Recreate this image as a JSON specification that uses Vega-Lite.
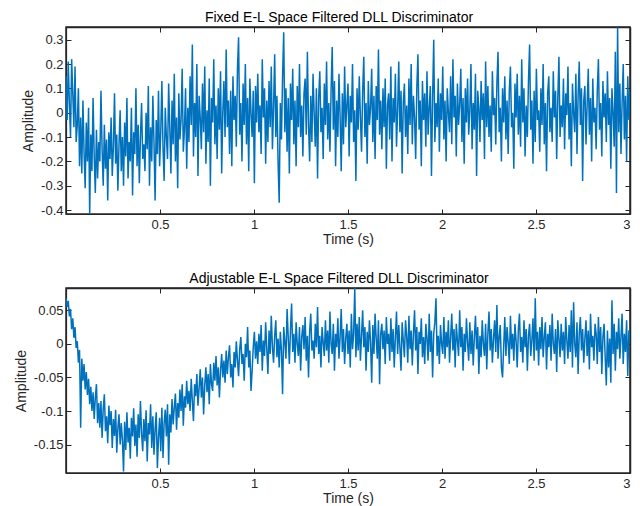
{
"$schema": "https://vega.github.io/schema/vega-lite/v6.json",
"padding": {"left": 13, "top": 9, "right": 6, "bottom": 0},
"spacing": 23,
"config": {
"view": {"stroke": "#262626", "strokeWidth": 1.5},
"axis": {"grid": false, "labelFont": "Liberation Sans", "labelFontSize": 13, "labelColor": "#262626", "titleFont": "Liberation Sans", "titleFontSize": 14, "titleFontWeight": "normal", "titleColor": "#262626", "domain": true, "domainColor": "#262626", "tickColor": "#262626", "domainWidth": 1.2, "tickWidth": 1, "tickSize": -5, "labelPadding": 8},
"title": {"font": "Liberation Sans", "fontSize": 14, "fontWeight": "normal", "color": "#000000", "offset": 2, "dx": -9}
},
"data": {"values": [
{"t":0,"a":0.15,"b":0.068},{"t":0.006,"a":-0.03,"b":0.055},{"t":0.012,"a":0.21,"b":0.064},{"t":0.018,"a":0.04,"b":0.041},{"t":0.024,"a":-0.1,"b":0.052},{"t":0.03,"a":0.22,"b":0.022},{"t":0.036,"a":0.08,"b":0.038},{"t":0.042,"a":-0.06,"b":0.009},{"t":0.048,"a":0.19,"b":0.025},{"t":0.054,"a":-0.12,"b":-0.006},
{"t":0.06,"a":-0.05,"b":0.004},{"t":0.066,"a":0.1,"b":-0.028},{"t":0.072,"a":-0.22,"b":-0.009},{"t":0.078,"a":-0.02,"b":-0.125},{"t":0.084,"a":-0.25,"b":-0.022},{"t":0.09,"a":0.05,"b":-0.055},{"t":0.096,"a":-0.16,"b":-0.03},{"t":0.102,"a":-0.31,"b":-0.068},{"t":0.108,"a":-0.04,"b":-0.042},{"t":0.114,"a":-0.2,"b":-0.076},
{"t":0.12,"a":0.02,"b":-0.052},{"t":0.126,"a":-0.42,"b":-0.09},{"t":0.132,"a":-0.09,"b":-0.064},{"t":0.138,"a":-0.24,"b":-0.1},{"t":0.144,"a":0.06,"b":-0.072},{"t":0.15,"a":-0.18,"b":-0.112},{"t":0.156,"a":-0.33,"b":-0.08},{"t":0.162,"a":-0.07,"b":-0.06},{"t":0.168,"a":-0.27,"b":-0.118},{"t":0.174,"a":-0.12,"b":-0.088},
{"t":0.18,"a":-0.2,"b":-0.125},{"t":0.186,"a":0.09,"b":-0.085},{"t":0.192,"a":-0.15,"b":-0.14},{"t":0.198,"a":-0.3,"b":-0.097},{"t":0.204,"a":-0.05,"b":-0.075},{"t":0.21,"a":-0.23,"b":-0.13},{"t":0.216,"a":-0.11,"b":-0.108},{"t":0.222,"a":-0.36,"b":-0.148},{"t":0.228,"a":-0.08,"b":-0.092},{"t":0.234,"a":-0.19,"b":-0.121},
{"t":0.24,"a":-0.02,"b":-0.1},{"t":0.246,"a":-0.26,"b":-0.155},{"t":0.252,"a":-0.14,"b":-0.112},{"t":0.258,"a":0.08,"b":-0.137},{"t":0.264,"a":-0.21,"b":-0.098},{"t":0.27,"a":-0.09,"b":-0.162},{"t":0.276,"a":-0.32,"b":-0.125},{"t":0.282,"a":-0.13,"b":-0.105},{"t":0.288,"a":0.01,"b":-0.15},{"t":0.294,"a":-0.24,"b":-0.118},
{"t":0.3,"a":-0.1,"b":-0.143},{"t":0.306,"a":-0.3,"b":-0.19},{"t":0.312,"a":-0.04,"b":-0.116},{"t":0.318,"a":-0.18,"b":-0.158},{"t":0.324,"a":0.06,"b":-0.102},{"t":0.33,"a":-0.27,"b":-0.147},{"t":0.336,"a":-0.12,"b":-0.125},{"t":0.342,"a":-0.2,"b":-0.171},{"t":0.348,"a":0.02,"b":-0.11},{"t":0.354,"a":-0.34,"b":-0.138},
{"t":0.36,"a":-0.08,"b":-0.096},{"t":0.366,"a":-0.17,"b":-0.152},{"t":0.372,"a":0.1,"b":-0.12},{"t":0.378,"a":-0.22,"b":-0.168},{"t":0.384,"a":-0.05,"b":-0.105},{"t":0.39,"a":-0.29,"b":-0.14},{"t":0.396,"a":-0.1,"b":-0.085},{"t":0.402,"a":0.04,"b":-0.133},{"t":0.408,"a":-0.19,"b":-0.16},{"t":0.414,"a":-0.13,"b":-0.112},
{"t":0.42,"a":-0.24,"b":-0.145},{"t":0.426,"a":0,"b":-0.099},{"t":0.432,"a":-0.15,"b":-0.175},{"t":0.438,"a":0.11,"b":-0.118},{"t":0.444,"a":-0.3,"b":-0.135},{"t":0.45,"a":-0.06,"b":-0.09},{"t":0.456,"a":-0.2,"b":-0.155},{"t":0.462,"a":0.07,"b":-0.108},{"t":0.468,"a":-0.12,"b":-0.165},{"t":0.474,"a":-0.36,"b":-0.127},
{"t":0.48,"a":-0.03,"b":-0.102},{"t":0.486,"a":-0.17,"b":-0.185},{"t":0.492,"a":0.09,"b":-0.14},{"t":0.498,"a":-0.22,"b":-0.11},{"t":0.504,"a":-0.08,"b":-0.16},{"t":0.51,"a":0.13,"b":-0.095},{"t":0.516,"a":-0.14,"b":-0.17},{"t":0.522,"a":-0.28,"b":-0.118},{"t":0.528,"a":0.02,"b":-0.098},{"t":0.534,"a":-0.1,"b":-0.138},
{"t":0.54,"a":-0.19,"b":-0.09},{"t":0.546,"a":0.12,"b":-0.18},{"t":0.552,"a":-0.06,"b":-0.105},{"t":0.558,"a":-0.25,"b":-0.132},{"t":0.564,"a":0.05,"b":-0.082},{"t":0.57,"a":-0.13,"b":-0.12},{"t":0.576,"a":0.16,"b":-0.095},{"t":0.582,"a":-0.2,"b":-0.074},{"t":0.588,"a":-0.02,"b":-0.128},{"t":0.594,"a":-0.31,"b":-0.088},
{"t":0.6,"a":0.08,"b":-0.11},{"t":0.606,"a":-0.11,"b":-0.068},{"t":0.612,"a":-0.03,"b":-0.1},{"t":0.618,"a":0.18,"b":-0.06},{"t":0.624,"a":-0.16,"b":-0.122},{"t":0.63,"a":-0.07,"b":-0.078},{"t":0.636,"a":0.1,"b":-0.095},{"t":0.642,"a":-0.23,"b":-0.055},{"t":0.648,"a":0.02,"b":-0.09},{"t":0.654,"a":-0.12,"b":-0.07},
{"t":0.66,"a":0.15,"b":-0.1},{"t":0.666,"a":-0.05,"b":-0.052},{"t":0.672,"a":0.28,"b":-0.085},{"t":0.678,"a":-0.18,"b":-0.115},{"t":0.684,"a":0.04,"b":-0.06},{"t":0.69,"a":-0.1,"b":-0.078},{"t":0.696,"a":0.2,"b":-0.045},{"t":0.702,"a":-0.26,"b":-0.092},{"t":0.708,"a":0.07,"b":-0.066},{"t":0.714,"a":-0.02,"b":-0.038},
{"t":0.72,"a":-0.15,"b":-0.08},{"t":0.726,"a":0.12,"b":-0.05},{"t":0.732,"a":-0.08,"b":-0.105},{"t":0.738,"a":0.19,"b":-0.062},{"t":0.744,"a":-0.21,"b":-0.035},{"t":0.75,"a":0.01,"b":-0.072},{"t":0.756,"a":-0.12,"b":-0.045},{"t":0.762,"a":0.14,"b":-0.09},{"t":0.768,"a":-0.3,"b":-0.03},{"t":0.774,"a":0.06,"b":-0.06},
{"t":0.78,"a":-0.04,"b":-0.07},{"t":0.786,"a":0.22,"b":-0.028},{"t":0.792,"a":-0.13,"b":-0.055},{"t":0.798,"a":0.03,"b":-0.018},{"t":0.804,"a":-0.19,"b":-0.062},{"t":0.81,"a":0.1,"b":-0.035},{"t":0.816,"a":-0.07,"b":-0.08},{"t":0.822,"a":0.17,"b":-0.04},{"t":0.828,"a":-0.25,"b":-0.015},{"t":0.834,"a":0,"b":-0.05},
{"t":0.84,"a":0.13,"b":-0.025},{"t":0.846,"a":-0.1,"b":-0.058},{"t":0.852,"a":0.26,"b":-0.01},{"t":0.858,"a":-0.06,"b":-0.045},{"t":0.864,"a":0.05,"b":-0.02},{"t":0.87,"a":-0.17,"b":-0.002},{"t":0.876,"a":0.09,"b":-0.05},{"t":0.882,"a":-0.22,"b":-0.03},{"t":0.888,"a":0.15,"b":-0.065},{"t":0.894,"a":-0.03,"b":-0.012},
{"t":0.9,"a":0.07,"b":-0.035},{"t":0.906,"a":-0.14,"b":0.004},{"t":0.912,"a":0.18,"b":-0.025},{"t":0.918,"a":0.31,"b":-0.048},{"t":0.924,"a":-0.09,"b":-0.008},{"t":0.93,"a":0.04,"b":0.01},{"t":0.936,"a":-0.2,"b":-0.03},{"t":0.942,"a":0.12,"b":-0.015},{"t":0.948,"a":-0.05,"b":-0.055},{"t":0.954,"a":0.2,"b":0},
{"t":0.96,"a":-0.13,"b":-0.02},{"t":0.966,"a":0.06,"b":0.025},{"t":0.972,"a":-0.24,"b":-0.035},{"t":0.978,"a":0.14,"b":-0.01},{"t":0.984,"a":0,"b":-0.07},{"t":0.99,"a":-0.1,"b":-0.04},{"t":0.996,"a":0.09,"b":-0.005},{"t":1.002,"a":-0.29,"b":0.018},{"t":1.008,"a":0.11,"b":-0.022},{"t":1.014,"a":-0.04,"b":0.004},
{"t":1.02,"a":0.16,"b":-0.03},{"t":1.026,"a":-0.08,"b":0.015},{"t":1.032,"a":0.03,"b":-0.012},{"t":1.038,"a":-0.17,"b":0.028},{"t":1.044,"a":0.22,"b":-0.04},{"t":1.05,"a":-0.02,"b":0.005},{"t":1.056,"a":0.1,"b":-0.018},{"t":1.062,"a":-0.21,"b":0.032},{"t":1.068,"a":0.05,"b":-0.008},{"t":1.074,"a":-0.12,"b":-0.045},
{"t":1.08,"a":0.13,"b":0.02},{"t":1.086,"a":-0.06,"b":-0.015},{"t":1.092,"a":0.19,"b":0.042},{"t":1.098,"a":-0.15,"b":-0.005},{"t":1.104,"a":0.02,"b":-0.028},{"t":1.11,"a":0.24,"b":0.012},{"t":1.116,"a":-0.1,"b":0.035},{"t":1.122,"a":0.07,"b":-0.02},{"t":1.128,"a":-0.2,"b":0.008},{"t":1.134,"a":-0.37,"b":-0.035},
{"t":1.14,"a":0.04,"b":0.018},{"t":1.146,"a":-0.11,"b":-0.01},{"t":1.152,"a":0.15,"b":-0.075},{"t":1.158,"a":0.33,"b":0.025},{"t":1.164,"a":-0.08,"b":0.003},{"t":1.17,"a":0.1,"b":-0.022},{"t":1.176,"a":-0.16,"b":0.052},{"t":1.182,"a":0.06,"b":0.01},{"t":1.188,"a":-0.25,"b":-0.03},{"t":1.194,"a":0.12,"b":0.02},
{"t":1.2,"a":-0.03,"b":0.06},{"t":1.206,"a":0.18,"b":-0.012},{"t":1.212,"a":-0.13,"b":0.015},{"t":1.218,"a":0.05,"b":-0.028},{"t":1.224,"a":-0.22,"b":0.032},{"t":1.23,"a":0.11,"b":0},{"t":1.236,"a":-0.06,"b":-0.018},{"t":1.242,"a":0.2,"b":0.025},{"t":1.248,"a":-0.1,"b":-0.04},{"t":1.254,"a":0.03,"b":0.01},
{"t":1.26,"a":-0.18,"b":0.028},{"t":1.266,"a":0.08,"b":-0.008},{"t":1.272,"a":0.14,"b":0.04},{"t":1.278,"a":-0.09,"b":-0.025},{"t":1.284,"a":0.25,"b":0.012},{"t":1.29,"a":-0.05,"b":-0.05},{"t":1.296,"a":-0.2,"b":0.018},{"t":1.302,"a":0.07,"b":0.045},{"t":1.308,"a":-0.12,"b":-0.01},{"t":1.314,"a":0.16,"b":0.005},
{"t":1.32,"a":0,"b":-0.022},{"t":1.326,"a":-0.14,"b":0.03},{"t":1.332,"a":0.1,"b":-0.005},{"t":1.338,"a":-0.27,"b":0.055},{"t":1.344,"a":0.06,"b":-0.015},{"t":1.35,"a":0.17,"b":0.012},{"t":1.356,"a":-0.08,"b":-0.035},{"t":1.362,"a":0.02,"b":0.025},{"t":1.368,"a":-0.19,"b":0.002},{"t":1.374,"a":0.12,"b":-0.018},
{"t":1.38,"a":-0.05,"b":0.035},{"t":1.386,"a":0.21,"b":-0.01},{"t":1.392,"a":-0.11,"b":0.02},{"t":1.398,"a":0.04,"b":-0.028},{"t":1.404,"a":-0.16,"b":0.048},{"t":1.41,"a":0.09,"b":0},{"t":1.416,"a":0.27,"b":-0.015},{"t":1.422,"a":-0.07,"b":0.03},{"t":1.428,"a":0.13,"b":-0.04},{"t":1.434,"a":-0.22,"b":0.015},
{"t":1.44,"a":0.05,"b":-0.005},{"t":1.446,"a":-0.1,"b":0.038},{"t":1.452,"a":0.16,"b":-0.022},{"t":1.458,"a":-0.02,"b":0.01},{"t":1.464,"a":-0.24,"b":0.052},{"t":1.47,"a":0.08,"b":-0.012},{"t":1.476,"a":-0.13,"b":0.022},{"t":1.482,"a":0.19,"b":-0.03},{"t":1.488,"a":-0.06,"b":0.008},{"t":1.494,"a":0.03,"b":0.03},
{"t":1.5,"a":0.12,"b":-0.015},{"t":1.506,"a":-0.18,"b":0.02},{"t":1.512,"a":0.07,"b":-0.035},{"t":1.518,"a":-0.04,"b":0.045},{"t":1.524,"a":0.2,"b":-0.008},{"t":1.53,"a":-0.12,"b":0.015},{"t":1.536,"a":0.01,"b":0.083},{"t":1.542,"a":-0.28,"b":-0.02},{"t":1.548,"a":0.1,"b":0.03},{"t":1.554,"a":-0.07,"b":-0.01},
{"t":1.56,"a":0.15,"b":0.04},{"t":1.566,"a":-0.02,"b":-0.025},{"t":1.572,"a":-0.16,"b":0.012},{"t":1.578,"a":0.09,"b":0.05},{"t":1.584,"a":0.23,"b":-0.005},{"t":1.59,"a":-0.1,"b":0.025},{"t":1.596,"a":0.04,"b":-0.04},{"t":1.602,"a":-0.21,"b":0.018},{"t":1.608,"a":0.13,"b":-0.012},{"t":1.614,"a":-0.05,"b":0.035},
{"t":1.62,"a":0.02,"b":0.002},{"t":1.626,"a":0.18,"b":-0.058},{"t":1.632,"a":-0.12,"b":0.028},{"t":1.638,"a":0.07,"b":-0.015},{"t":1.644,"a":-0.19,"b":0.045},{"t":1.65,"a":0.11,"b":0.008},{"t":1.656,"a":-0.03,"b":-0.022},{"t":1.662,"a":0.26,"b":0.035},{"t":1.668,"a":-0.09,"b":-0.06},{"t":1.674,"a":0.05,"b":0.015},
{"t":1.68,"a":-0.15,"b":0.03},{"t":1.686,"a":0.1,"b":-0.008},{"t":1.692,"a":-0.06,"b":0.02},{"t":1.698,"a":0.14,"b":-0.03},{"t":1.704,"a":-0.23,"b":0.04},{"t":1.71,"a":0.03,"b":0},{"t":1.716,"a":0.08,"b":0.015},{"t":1.722,"a":-0.11,"b":-0.025},{"t":1.728,"a":0.19,"b":0.038},{"t":1.734,"a":-0.2,"b":-0.012},
{"t":1.74,"a":0.06,"b":0.022},{"t":1.746,"a":-0.04,"b":-0.035},{"t":1.752,"a":0.16,"b":0.01},{"t":1.758,"a":-0.14,"b":0.048},{"t":1.764,"a":0.01,"b":-0.015},{"t":1.77,"a":0.21,"b":0.028},{"t":1.776,"a":-0.08,"b":-0.005},{"t":1.782,"a":0.09,"b":-0.04},{"t":1.788,"a":-0.25,"b":0.032},{"t":1.794,"a":0.04,"b":0.005},
{"t":1.8,"a":0.12,"b":-0.02},{"t":1.806,"a":-0.1,"b":0.035},{"t":1.812,"a":0.03,"b":0.012},{"t":1.818,"a":-0.17,"b":-0.028},{"t":1.824,"a":0.14,"b":0.042},{"t":1.83,"a":-0.05,"b":-0.008},{"t":1.836,"a":0.2,"b":0.02},{"t":1.842,"a":-0.13,"b":-0.032},{"t":1.848,"a":0.07,"b":0.015},{"t":1.854,"a":-0.02,"b":0.05},
{"t":1.86,"a":-0.19,"b":-0.01},{"t":1.866,"a":0.1,"b":0.025},{"t":1.872,"a":0.24,"b":-0.045},{"t":1.878,"a":-0.07,"b":0.018},{"t":1.884,"a":0.05,"b":0},{"t":1.89,"a":-0.22,"b":0.038},{"t":1.896,"a":0.13,"b":-0.02},{"t":1.902,"a":-0.03,"b":0.01},{"t":1.908,"a":0.08,"b":-0.03},{"t":1.914,"a":-0.14,"b":0.03},
{"t":1.92,"a":0.17,"b":0.008},{"t":1.926,"a":-0.09,"b":-0.025},{"t":1.932,"a":0.02,"b":0.045},{"t":1.938,"a":0.11,"b":-0.012},{"t":1.944,"a":-0.26,"b":0.02},{"t":1.95,"a":0.06,"b":-0.05},{"t":1.956,"a":0.3,"b":0.015},{"t":1.962,"a":-0.12,"b":0.032},{"t":1.968,"a":0.04,"b":0.068},{"t":1.974,"a":-0.06,"b":-0.018},
{"t":1.98,"a":0.14,"b":0.012},{"t":1.986,"a":-0.16,"b":-0.03},{"t":1.992,"a":0.08,"b":0.028},{"t":1.998,"a":-0.03,"b":0},{"t":2.004,"a":0.19,"b":-0.015},{"t":2.01,"a":-0.11,"b":0.04},{"t":2.016,"a":0.05,"b":-0.022},{"t":2.022,"a":-0.2,"b":0.018},{"t":2.028,"a":0.1,"b":-0.005},{"t":2.034,"a":0,"b":0.035},
{"t":2.04,"a":-0.08,"b":-0.028},{"t":2.046,"a":0.15,"b":0.01},{"t":2.052,"a":-0.13,"b":0.045},{"t":2.058,"a":0.22,"b":-0.01},{"t":2.064,"a":-0.02,"b":0.022},{"t":2.07,"a":0.07,"b":-0.035},{"t":2.076,"a":-0.18,"b":0.03},{"t":2.082,"a":0.12,"b":0.005},{"t":2.088,"a":-0.05,"b":-0.018},{"t":2.094,"a":0.03,"b":0.05},
{"t":2.1,"a":0.18,"b":-0.005},{"t":2.106,"a":-0.12,"b":0.025},{"t":2.112,"a":0.06,"b":-0.04},{"t":2.118,"a":-0.21,"b":0.015},{"t":2.124,"a":0.1,"b":-0.012},{"t":2.13,"a":-0.04,"b":0.038},{"t":2.136,"a":0.14,"b":0.002},{"t":2.142,"a":-0.09,"b":-0.025},{"t":2.148,"a":0.01,"b":0.032},{"t":2.154,"a":0.2,"b":-0.015},
{"t":2.16,"a":-0.15,"b":0.02},{"t":2.166,"a":0.04,"b":-0.032},{"t":2.172,"a":-0.07,"b":0.01},{"t":2.178,"a":0.16,"b":0.042},{"t":2.184,"a":-0.26,"b":-0.008},{"t":2.19,"a":0.09,"b":0.025},{"t":2.196,"a":0.02,"b":-0.045},{"t":2.202,"a":-0.12,"b":0.012},{"t":2.208,"a":0.13,"b":-0.02},{"t":2.214,"a":-0.03,"b":0.035},
{"t":2.22,"a":0.08,"b":0},{"t":2.226,"a":-0.19,"b":-0.018},{"t":2.232,"a":0.21,"b":0.03},{"t":2.238,"a":-0.06,"b":-0.038},{"t":2.244,"a":0.11,"b":0.015},{"t":2.25,"a":-0.1,"b":0.048},{"t":2.256,"a":0.03,"b":-0.01},{"t":2.262,"a":-0.16,"b":0.022},{"t":2.268,"a":0.17,"b":-0.028},{"t":2.274,"a":-0.01,"b":0.008},
{"t":2.28,"a":0.06,"b":0.035},{"t":2.286,"a":-0.13,"b":-0.012},{"t":2.292,"a":0.12,"b":0.058},{"t":2.298,"a":0.25,"b":-0.022},{"t":2.304,"a":-0.08,"b":0.01},{"t":2.31,"a":0.02,"b":0.028},{"t":2.316,"a":-0.2,"b":-0.035},{"t":2.322,"a":0.1,"b":-0.05},{"t":2.328,"a":-0.04,"b":-0.005},{"t":2.334,"a":0.15,"b":0.04},
{"t":2.34,"a":-0.11,"b":-0.018},{"t":2.346,"a":0.05,"b":0.025},{"t":2.352,"a":-0.17,"b":0.002},{"t":2.358,"a":0.09,"b":-0.03},{"t":2.364,"a":0.19,"b":0.042},{"t":2.37,"a":-0.06,"b":-0.008},{"t":2.376,"a":0,"b":0.015},{"t":2.382,"a":-0.23,"b":-0.025},{"t":2.388,"a":0.12,"b":0.03},{"t":2.394,"a":-0.02,"b":0.005},
{"t":2.4,"a":0.16,"b":-0.035},{"t":2.406,"a":-0.09,"b":0.02},{"t":2.412,"a":0.07,"b":0.045},{"t":2.418,"a":-0.14,"b":-0.012},{"t":2.424,"a":0.22,"b":0.01},{"t":2.43,"a":-0.04,"b":-0.028},{"t":2.436,"a":0.1,"b":0.035},{"t":2.442,"a":-0.18,"b":-0.005},{"t":2.448,"a":0.03,"b":0.022},{"t":2.454,"a":-0.1,"b":-0.04},
{"t":2.46,"a":0.13,"b":0.012},{"t":2.466,"a":0.28,"b":0.03},{"t":2.472,"a":-0.07,"b":-0.018},{"t":2.478,"a":0.05,"b":0.005},{"t":2.484,"a":-0.21,"b":0.038},{"t":2.49,"a":0.09,"b":-0.025},{"t":2.496,"a":-0.12,"b":0.068},{"t":2.502,"a":0.18,"b":-0.01},{"t":2.508,"a":-0.03,"b":0.018},{"t":2.514,"a":0.01,"b":-0.032},
{"t":2.52,"a":-0.16,"b":0.025},{"t":2.526,"a":0.1,"b":-0.008},{"t":2.532,"a":-0.05,"b":0.04},{"t":2.538,"a":0.2,"b":-0.02},{"t":2.544,"a":-0.13,"b":0.01},{"t":2.55,"a":0.04,"b":0.032},{"t":2.556,"a":-0.24,"b":-0.038},{"t":2.562,"a":0.08,"b":0.015},{"t":2.568,"a":0.15,"b":-0.005},{"t":2.574,"a":-0.08,"b":0.028},
{"t":2.58,"a":0.02,"b":-0.025},{"t":2.586,"a":-0.12,"b":0.045},{"t":2.592,"a":0.17,"b":0},{"t":2.598,"a":-0.02,"b":-0.015},{"t":2.604,"a":0.09,"b":0.022},{"t":2.61,"a":-0.19,"b":-0.042},{"t":2.616,"a":0.06,"b":0.035},{"t":2.622,"a":0.23,"b":0.008},{"t":2.628,"a":-0.1,"b":-0.02},{"t":2.634,"a":0.03,"b":0.03},
{"t":2.64,"a":-0.06,"b":-0.01},{"t":2.646,"a":0.14,"b":0.018},{"t":2.652,"a":-0.15,"b":-0.03},{"t":2.658,"a":0.08,"b":0.04},{"t":2.664,"a":-0.01,"b":0.005},{"t":2.67,"a":0.19,"b":-0.022},{"t":2.676,"a":-0.11,"b":0.028},{"t":2.682,"a":0.04,"b":-0.012},{"t":2.688,"a":-0.22,"b":0.05},{"t":2.694,"a":0.12,"b":-0.035},
{"t":2.7,"a":0,"b":0.062},{"t":2.706,"a":-0.08,"b":0},{"t":2.712,"a":0.16,"b":-0.02},{"t":2.718,"a":-0.17,"b":0.032},{"t":2.724,"a":0.07,"b":-0.045},{"t":2.73,"a":0.21,"b":0.015},{"t":2.736,"a":-0.05,"b":0.04},{"t":2.742,"a":0.1,"b":-0.01},{"t":2.748,"a":-0.28,"b":0.022},{"t":2.754,"a":0.05,"b":-0.028},
{"t":2.76,"a":0.11,"b":0.008},{"t":2.766,"a":-0.13,"b":0.035},{"t":2.772,"a":0.03,"b":-0.018},{"t":2.778,"a":0.18,"b":0.02},{"t":2.784,"a":-0.09,"b":-0.038},{"t":2.79,"a":0.06,"b":0.045},{"t":2.796,"a":-0.2,"b":-0.005},{"t":2.802,"a":0.14,"b":0.012},{"t":2.808,"a":-0.04,"b":-0.025},{"t":2.814,"a":0.02,"b":0.03},
{"t":2.82,"a":-0.15,"b":0.015},{"t":2.826,"a":0.09,"b":-0.03},{"t":2.832,"a":0.22,"b":0.04},{"t":2.838,"a":-0.07,"b":-0.012},{"t":2.844,"a":0.04,"b":0.025},{"t":2.85,"a":-0.18,"b":-0.045},{"t":2.856,"a":0.13,"b":0.01},{"t":2.862,"a":-0.02,"b":0.03},{"t":2.868,"a":0.08,"b":-0.02},{"t":2.874,"a":-0.12,"b":-0.062},
{"t":2.88,"a":0.17,"b":0.02},{"t":2.886,"a":-0.05,"b":-0.035},{"t":2.892,"a":0.06,"b":0.008},{"t":2.898,"a":-0.23,"b":-0.058},{"t":2.904,"a":0.1,"b":0.065},{"t":2.91,"a":0,"b":-0.015},{"t":2.916,"a":-0.14,"b":0.03},{"t":2.922,"a":0.25,"b":-0.04},{"t":2.928,"a":-0.33,"b":0.018},{"t":2.934,"a":0.35,"b":-0.008},
{"t":2.94,"a":-0.08,"b":0.038},{"t":2.946,"a":0.12,"b":-0.022},{"t":2.952,"a":-0.17,"b":0.01},{"t":2.958,"a":0.04,"b":0.045},{"t":2.964,"a":0.2,"b":-0.03},{"t":2.97,"a":-0.11,"b":0.015},{"t":2.976,"a":0.07,"b":-0.012},{"t":2.982,"a":-0.2,"b":0.035},{"t":2.988,"a":0.15,"b":-0.048},{"t":2.994,"a":-0.03,"b":0.02},
{"t":3,"a":0.09,"b":0.005}
]},
"vconcat": [
{
"title": "Fixed E-L Space Filtered DLL Discriminator",
"width": 564, "height": 187,
"layer": [
{"mark": {"type": "line", "color": "#0072BD", "strokeWidth": 1.5, "clip": true},
 "encoding": {
  "x": {"field": "t", "type": "quantitative", "scale": {"domain": [0, 3], "nice": false, "zero": false}, "axis": {"orient": "bottom", "values": [0.5, 1, 1.5, 2, 2.5, 3], "labelExpr": "'' + datum.value", "title": "Time (s)", "titlePadding": 1, "labelPadding": 9}},
  "y": {"field": "a", "type": "quantitative", "scale": {"domain": [-0.416, 0.352], "nice": false, "zero": false}, "axis": {"orient": "left", "values": [-0.4, -0.3, -0.2, -0.1, 0, 0.1, 0.2, 0.3], "labelExpr": "'' + datum.value", "title": "Amplitude", "titlePadding": 5}}
 }},
{"mark": {"type": "line", "opacity": 0, "clip": true},
 "encoding": {
  "x": {"field": "t", "type": "quantitative", "scale": {"domain": [0, 3], "nice": false, "zero": false}, "axis": {"orient": "top", "values": [0.5, 1, 1.5, 2, 2.5, 3], "labels": false, "title": null, "domain": true, "domainColor": "#262626", "domainWidth": 1.5, "tickColor": "#262626"}},
  "y": {"field": "a", "type": "quantitative", "scale": {"domain": [-0.416, 0.352], "nice": false, "zero": false}, "axis": {"orient": "right", "values": [-0.4, -0.3, -0.2, -0.1, 0, 0.1, 0.2, 0.3], "labels": false, "title": null, "domain": true, "domainColor": "#262626", "domainWidth": 1.5, "tickColor": "#262626"}}
 }}
],
"resolve": {"scale": {"x": "independent", "y": "independent"}, "axis": {"x": "independent", "y": "independent"}}
},
{
"title": "Adjustable E-L Space Filtered DLL Discriminator",
"width": 564, "height": 185,
"layer": [
{"mark": {"type": "line", "color": "#0072BD", "strokeWidth": 1.5, "clip": true},
 "encoding": {
  "x": {"field": "t", "type": "quantitative", "scale": {"domain": [0, 3], "nice": false, "zero": false}, "axis": {"orient": "bottom", "values": [0.5, 1, 1.5, 2, 2.5, 3], "labelExpr": "'' + datum.value", "title": "Time (s)", "titlePadding": 1, "labelPadding": 9}},
  "y": {"field": "b", "type": "quantitative", "scale": {"domain": [-0.1923, 0.0832], "nice": false, "zero": false}, "axis": {"orient": "left", "values": [-0.15, -0.1, -0.05, 0, 0.05], "labelExpr": "'' + datum.value", "title": "Amplitude", "titlePadding": 5}}
 }},
{"mark": {"type": "line", "opacity": 0, "clip": true},
 "encoding": {
  "x": {"field": "t", "type": "quantitative", "scale": {"domain": [0, 3], "nice": false, "zero": false}, "axis": {"orient": "top", "values": [0.5, 1, 1.5, 2, 2.5, 3], "labels": false, "title": null, "domain": true, "domainColor": "#262626", "domainWidth": 1.5, "tickColor": "#262626"}},
  "y": {"field": "b", "type": "quantitative", "scale": {"domain": [-0.1923, 0.0832], "nice": false, "zero": false}, "axis": {"orient": "right", "values": [-0.15, -0.1, -0.05, 0, 0.05], "labels": false, "title": null, "domain": true, "domainColor": "#262626", "domainWidth": 1.5, "tickColor": "#262626"}}
 }}
],
"resolve": {"scale": {"x": "independent", "y": "independent"}, "axis": {"x": "independent", "y": "independent"}}
}
]
}
